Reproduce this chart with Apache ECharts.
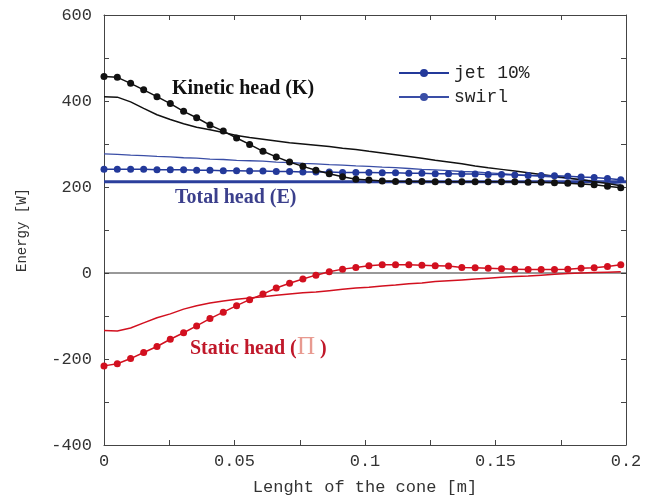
<!DOCTYPE html>
<html>
<head>
<meta charset="utf-8">
<script src="https://cdn.jsdelivr.net/npm/echarts@6/dist/echarts.min.js"></script>
<style>
  html, body { margin: 0; padding: 0; background: #fff; }
  #chart { width: 654px; height: 501px; }
</style>
</head>
<body>
<div id="chart"></div>
<script>
// x positions along the cone (m)
const xs = [0, 0.0051, 0.0102, 0.0152, 0.0203, 0.0254, 0.0305, 0.0355, 0.0406, 0.0457,
  0.0508, 0.0558, 0.0609, 0.0660, 0.0711, 0.0762, 0.0812, 0.0863, 0.0914, 0.0965,
  0.1015, 0.1066, 0.1117, 0.1168, 0.1218, 0.1269, 0.1320, 0.1371, 0.1422, 0.1472,
  0.1523, 0.1574, 0.1625, 0.1675, 0.1726, 0.1777, 0.1828, 0.1878, 0.1929, 0.1980];

// jet 10%
const kineticJet = [457, 455, 441, 426, 410, 394, 376, 361, 344, 330,
  314, 299, 283, 270, 258, 248, 239, 231, 224, 218,
  216, 214, 213, 213, 213, 212, 212, 212, 212, 212,
  212, 212, 211, 211, 210, 209, 207, 205, 202, 198];
const totalJet = [241, 241, 241, 241, 240, 240, 240, 239, 239, 238,
  238, 237, 237, 236, 236, 235, 235, 235, 234, 234,
  234, 233, 233, 232, 232, 231, 231, 230, 230, 229,
  229, 228, 227, 227, 226, 225, 223, 222, 220, 217];
const staticJet = [-216, -211, -199, -185, -171, -154, -139, -123, -106, -91,
  -76, -62, -49, -35, -24, -14, -5, 3, 9, 13,
  17, 19, 19, 19, 18, 17, 16, 13, 12, 11,
  10, 9, 8, 8, 8, 9, 11, 12, 15, 19];

// swirl
const kineticSwirl = [410, 409, 398, 383, 368, 357, 347, 339, 333, 327,
  320, 315, 311, 307, 303, 300, 297, 294, 290, 287,
  283, 279, 275, 271, 267, 262, 258, 254, 249, 245,
  241, 237, 233, 229, 225, 221, 217, 213, 208, 203];
const totalSwirl = [277, 276, 274, 273, 271, 270, 268, 267, 265, 264,
  262, 261, 260, 258, 257, 255, 254, 252, 251, 249,
  248, 246, 245, 243, 241, 240, 238, 236, 235, 233,
  231, 229, 227, 225, 223, 220, 217, 214, 210, 206];
const staticSwirl = [-134, -135, -128, -116, -104, -95, -84, -76, -70, -65,
  -61, -58, -55, -52, -49, -46, -44, -41, -38, -35,
  -33, -30, -28, -25, -23, -20, -18, -16, -14, -12,
  -10, -8, -7, -5, -3, -1, 0, 1, 2, 3];

// reference total head line
const refX = [0, 0.2];
const refE = [212, 212];

const xTicks = [0, 0.05, 0.1, 0.15, 0.2];
const yTicks = [-400, -200, 0, 200, 400, 600];

const pair = (a, b) => a.map((v, i) => [v, b[i]]);

const chart = echarts.init(document.getElementById('chart'));

const mono = '"Liberation Mono", "DejaVu Sans Mono", monospace';
const serif = '"Liberation Serif", "DejaVu Serif", serif';
const axisCol = '#444';
const black = '#111';
const blue = '#23399a';
const red = '#d2101f';

const baseAxis = {
  type: 'value',
  axisLine: { show: true, onZero: false, lineStyle: { color: axisCol, width: 1 } },
  axisTick: { show: true, inside: true, length: 5, lineStyle: { color: axisCol } },
  splitLine: { show: false }
};

const dotted = (name, data, color) => ({
  name: name,
  type: 'line',
  data: data,
  symbol: 'circle',
  symbolSize: 7,
  showSymbol: true,
  itemStyle: { color: color },
  lineStyle: { color: color, width: 1.5 },
  z: 3
});

const plain = (name, data, color, width) => ({
  name: name,
  type: 'line',
  data: data,
  symbol: 'none',
  showSymbol: false,
  itemStyle: { color: color },
  lineStyle: { color: color, width: width || 1.5 },
  z: 2
});

const option = {
  animation: false,
  backgroundColor: '#fff',
  grid: { left: 104, right: 28, top: 15, bottom: 54 },
  legend: {
    data: ['jet 10%', 'swirl'],
    orient: 'vertical',
    left: 393,
    top: 59,
    itemWidth: 50,
    itemHeight: 10,
    itemGap: 6,
    textStyle: { fontFamily: mono, fontSize: 18, color: '#222' }
  },
  xAxis: [
    Object.assign({}, baseAxis, {
      min: 0, max: 0.2, interval: 0.025,
      name: 'Lenght of the cone [m]',
      nameLocation: 'middle',
      nameGap: 34,
      nameTextStyle: { fontFamily: mono, fontSize: 17, color: '#333' },
      axisLabel: {
        fontFamily: mono, fontSize: 17, color: '#333', margin: 8,
        formatter: v => (xTicks.some(t => Math.abs(t - v) < 1e-9) ? String(+v.toFixed(3)) : '')
      }
    }),
    Object.assign({}, baseAxis, {
      min: 0, max: 0.2, interval: 0.025, position: 'top',
      axisLabel: { show: false }
    })
  ],
  yAxis: [
    Object.assign({}, baseAxis, {
      min: -400, max: 600, interval: 100,
      name: 'Energy [W]',
      nameLocation: 'middle',
      nameGap: 75,
      nameTextStyle: { fontFamily: mono, fontSize: 14, color: '#333' },
      axisLabel: {
        fontFamily: mono, fontSize: 17, color: '#333', margin: 12,
        formatter: v => (yTicks.includes(v) ? String(v) : '')
      }
    }),
    Object.assign({}, baseAxis, {
      min: -400, max: 600, interval: 100, position: 'right',
      axisLabel: { show: false }
    })
  ],
  series: [
    plain('ref', pair(refX, refE), '#2b3f9c', 3),
    Object.assign(plain('zero', [[0, 0], [0.2, 0]], '#333', 1), { z: 1 }),
    plain('swirl', pair(xs, totalSwirl), '#3a4ea6', 1.3),
    plain('kinetic swirl', pair(xs, kineticSwirl), black, 1.5),
    plain('static swirl', pair(xs, staticSwirl), red, 1.5),
    dotted('jet 10%', pair(xs, totalJet), blue),
    dotted('kinetic jet', pair(xs, kineticJet), black),
    dotted('static jet', pair(xs, staticJet), red)
  ],
  graphic: [
    {
      type: 'text', left: 172, top: 79,
      style: { text: 'Kinetic head (K)', fill: '#111', font: 'bold 20px ' + serif }
    },
    {
      type: 'text', left: 175, top: 188,
      style: { text: 'Total head (E)', fill: '#3b3f8c', font: 'bold 20px ' + serif }
    },
    {
      type: 'text', left: 190, top: 339,
      style: { text: 'Static head (', fill: '#c0182a', font: 'bold 20px ' + serif }
    },
    {
      type: 'text', left: 297, top: 335,
      style: { text: '\u03A0', fill: '#e89a90', font: '25px ' + serif }
    },
    {
      type: 'text', left: 320, top: 339,
      style: { text: ')', fill: '#c0182a', font: 'bold 20px ' + serif }
    }
  ]
};

chart.setOption(option);
</script>
</body>
</html>
